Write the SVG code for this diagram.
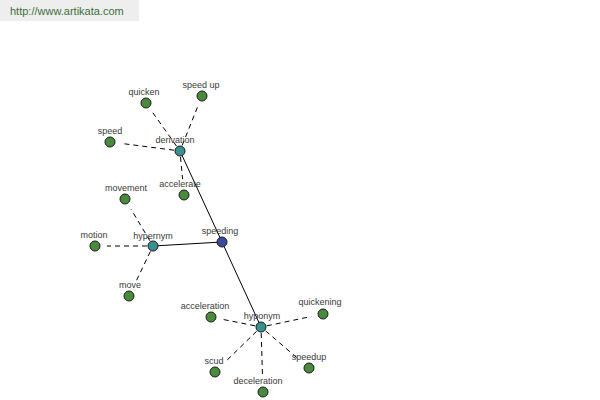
<svg xmlns="http://www.w3.org/2000/svg" width="600" height="400" viewBox="0 0 600 400">
<style>
text{font-family:"Liberation Sans",Arial,sans-serif;font-size:9px;fill:#3a3a3a;text-anchor:middle}
.n circle{stroke:#1a1a1a;stroke-width:1}
.leaf circle{fill:#4a8a3c}
.mid circle{fill:#3a8f8f}
.root circle{fill:#3b4b99}
.c line{stroke:#000;stroke-width:1}
.c .d{stroke-dasharray:5,4}
</style>
<rect x="0" y="0" width="139" height="21" fill="#eeeeee"/>
<text x="10" y="15" style="text-anchor:start;font-size:11px;fill:#3c6e3c">http://www.artikata.com</text>
<g class="c">
<line x1="222" y1="242" x2="180" y2="151"/>
<line x1="222" y1="242" x2="153" y2="246"/>
<line x1="222" y1="242" x2="261" y2="327"/>
<line class="d" x1="176.5" y1="146.1" x2="152.9" y2="112.8"/>
<line class="d" x1="182.2" y1="145.4" x2="197.5" y2="107.1"/>
<line class="d" x1="174" y1="150.2" x2="121.9" y2="143.5"/>
<line class="d" x1="180.5" y1="157" x2="182.6" y2="179.1"/>
<line class="d" x1="149.9" y1="240.8" x2="131.1" y2="209.3"/>
<line class="d" x1="147" y1="246" x2="107" y2="246"/>
<line class="d" x1="150.4" y1="251.4" x2="135.9" y2="281.6"/>
<line class="d" x1="255.1" y1="325.8" x2="222.8" y2="319.4"/>
<line class="d" x1="266.9" y1="325.8" x2="311.2" y2="316.5"/>
<line class="d" x1="256.7" y1="331.2" x2="226.4" y2="360.8"/>
<line class="d" x1="261.2" y1="333" x2="262.5" y2="376"/>
<line class="d" x1="265.6" y1="330.9" x2="296.8" y2="357.6"/>
</g>
<g id="quicken" class="n leaf"><circle cx="146" cy="103" r="5"/><text x="144" y="95">quicken</text></g>
<g id="speed-up" class="n leaf"><circle cx="202" cy="96" r="5"/><text x="201" y="88">speed up</text></g>
<g id="speed" class="n leaf"><circle cx="110" cy="142" r="5"/><text x="110" y="134">speed</text></g>
<g id="accelerate" class="n leaf"><circle cx="184" cy="195" r="5"/><text x="180" y="187">accelerate</text></g>
<g id="movement" class="n leaf"><circle cx="125" cy="199" r="5"/><text x="126" y="191">movement</text></g>
<g id="motion" class="n leaf"><circle cx="95" cy="246" r="5"/><text x="94" y="238">motion</text></g>
<g id="move" class="n leaf"><circle cx="129" cy="296" r="5"/><text x="130" y="288">move</text></g>
<g id="acceleration" class="n leaf"><circle cx="211" cy="317" r="5"/><text x="205" y="309">acceleration</text></g>
<g id="quickening" class="n leaf"><circle cx="323" cy="314" r="5"/><text x="320" y="305">quickening</text></g>
<g id="scud" class="n leaf"><circle cx="215" cy="372" r="5"/><text x="214" y="364">scud</text></g>
<g id="deceleration" class="n leaf"><circle cx="263" cy="392" r="5"/><text x="258" y="384">deceleration</text></g>
<g id="speedup" class="n leaf"><circle cx="309" cy="368" r="5"/><text x="309" y="360">speedup</text></g>
<g id="derivation" class="n mid"><circle cx="180" cy="151" r="5"/><text x="175" y="143">derivation</text></g>
<g id="hypernym" class="n mid"><circle cx="153" cy="246" r="5"/><text x="153" y="239">hypernym</text></g>
<g id="hyponym" class="n mid"><circle cx="261" cy="327" r="5"/><text x="262" y="319">hyponym</text></g>
<g id="speeding" class="n root"><circle cx="222" cy="242" r="5"/><text x="220" y="234">speeding</text></g>
</svg>
